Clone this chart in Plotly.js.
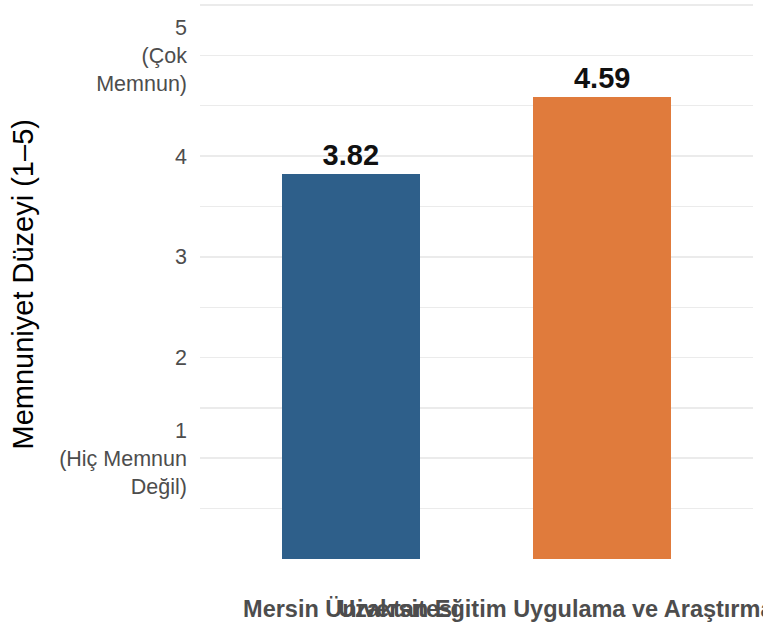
<!DOCTYPE html>
<html>
<head>
<meta charset="utf-8">
<script src="https://cdn.plot.ly/plotly-3.0.1.min.js"></script>
<style>html,body{margin:0;padding:0;background:#fff;}#chart{width:763px;height:631px;}</style>
</head>
<body>
<div id="chart"></div>
<script>
const categories = ["Mersin Üniversitesi", "Uzaktan Eğitim Uygulama ve Araştırma Merkezi"];
const values = [3.82, 4.59];
const barColors = ["#2E5F8A", "#E07B3C"];
const yTickVals = [1, 2, 3, 4, 5];
const yTickText = ["1<br>(Hiç Memnun<br>Değil)", "2", "3", "4", "5<br>(Çok<br>Memnun)"];
const yTitle = "Memnuniyet Düzeyi (1–5)";

const FONT = "Liberation Sans, Arial, sans-serif";

const trace = {
  type: "bar",
  x: [0, 1],
  y: values,
  width: 0.55,
  marker: {color: barColors, line: {width: 0}},
  text: values.map(v => v.toFixed(2)),
  textposition: "outside",
  cliponaxis: false,
  textfont: {family: FONT, size: 29, color: "#111111", weight: "bold"},
  hoverinfo: "skip"
};

const layout = {
  width: 763, height: 631,
  margin: {l: 200, r: 10, t: 0, b: 72},
  paper_bgcolor: "#ffffff",
  plot_bgcolor: "#ffffff",
  showlegend: false,
  font: {family: FONT},
  xaxis: {
    range: [-0.6, 1.6],
    tickmode: "array",
    tickvals: [0, 1],
    ticktext: categories,
    tickangle: 0,
    ticklabeloverflow: "allow",
    showgrid: false,
    zeroline: false,
    showline: false,
    ticks: "",
    tickfont: {family: FONT, size: 23.5, color: "#4D4D4D", weight: "bold"},
    ticklabelstandoff: 33
  },
  yaxis: {
    range: [0, 5.55],
    tickmode: "array",
    tickvals: yTickVals,
    ticktext: yTickText,
    showgrid: true,
    gridcolor: "#EBEBEB",
    gridwidth: 1.6,
    zeroline: false,
    showline: false,
    ticks: "",
    ticklabelstandoff: 12,
    tickfont: {family: FONT, size: 21.5, color: "#4D4D4D"},
    minor: {tickmode: "linear", tick0: 0, dtick: 0.5, showgrid: true, gridcolor: "#EBEBEB", gridwidth: 1.2, ticks: ""}
  },
  annotations: [{
    text: yTitle,
    xref: "paper", yref: "paper",
    x: 0, y: 0.5,
    xanchor: "center", yanchor: "middle",
    xshift: -178,
    yshift: -5,
    textangle: -90,
    showarrow: false,
    font: {family: FONT, size: 29, color: "#000000"}
  }],
  bargap: 0
};

Plotly.newPlot("chart", [trace], layout, {displayModeBar: false, staticPlot: true});
</script>
</body>
</html>
